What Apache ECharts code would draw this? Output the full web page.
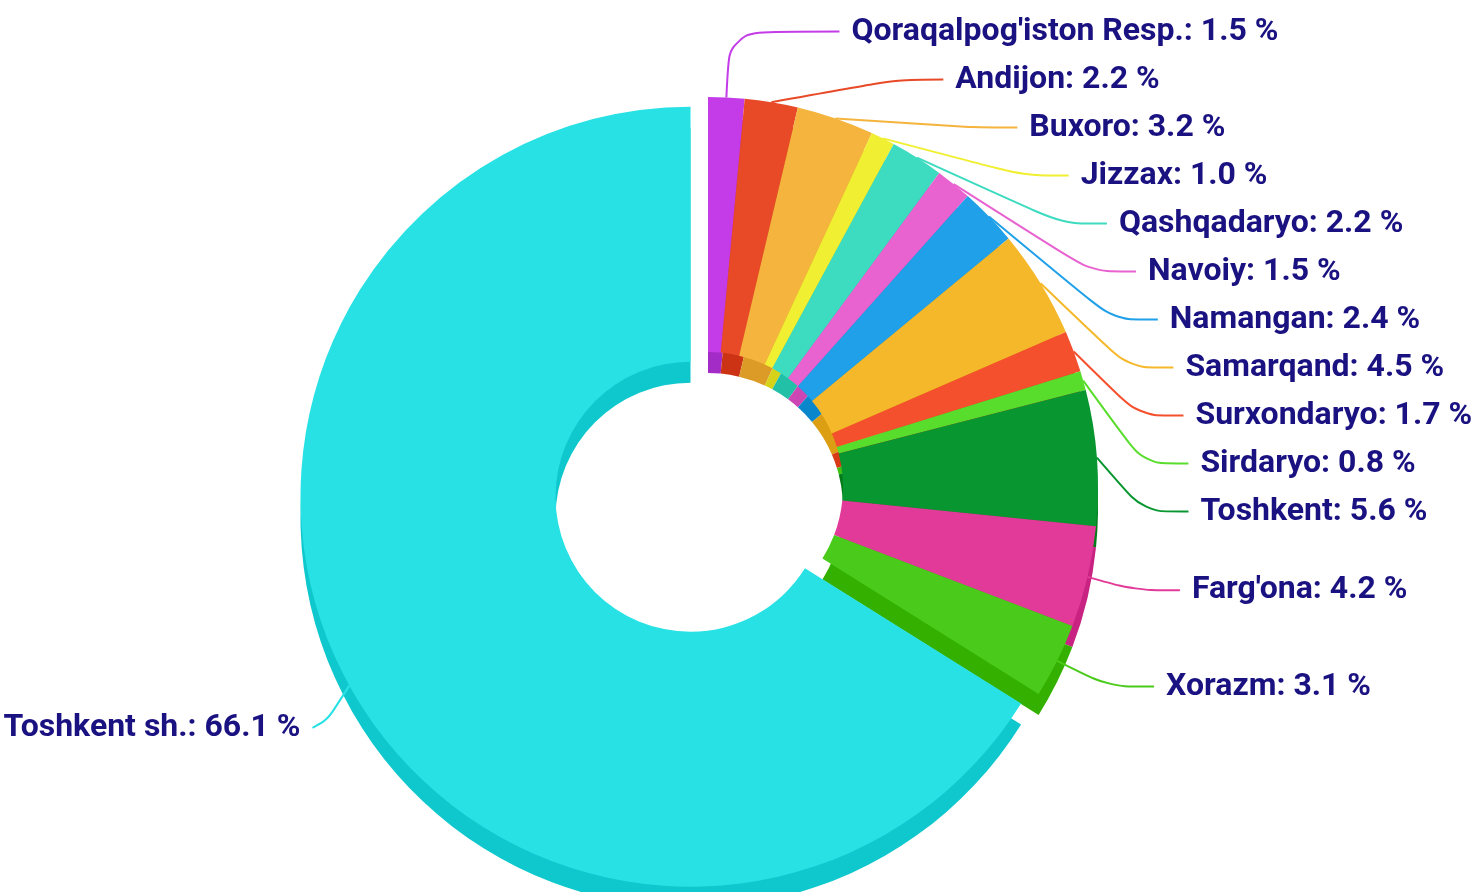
<!DOCTYPE html>
<html>
<head>
<meta charset="utf-8">
<script src="https://cdn.jsdelivr.net/npm/echarts@6/dist/echarts.min.js"></script>
<style>
  html, body { margin: 0; padding: 0; background: #fff; }
  #chart { width: 1479px; height: 892px; }
</style>
</head>
<body>
<div id="chart"></div>
<script>
// viloyatlar va ulushlar (%)
var regions = ["Qoraqalpog'iston Resp.", "Andijon", "Buxoro", "Jizzax", "Qashqadaryo", "Navoiy",
  "Namangan", "Samarqand", "Surxondaryo", "Sirdaryo", "Toshkent", "Farg'ona", "Xorazm", "Toshkent sh."];
var shares = [1.5, 2.2, 3.2, 1.0, 2.2, 1.5, 2.4, 4.5, 1.7, 0.8, 5.6, 4.2, 3.1, 66.1];
var topColors = ["#c43ce8", "#e84a28", "#f4b43e", "#f0ef32", "#3ddbc0", "#e862d0", "#1fa0e8",
  "#f5b82a", "#f5502d", "#58dd2c", "#079630", "#e23a98", "#4acb1b", "#27e1e5"];
var sideColors = ["#a42cc6", "#cc3214", "#dc9a26", "#d6d21a", "#22c0a6", "#cc46b4", "#0a86cc",
  "#dc9e12", "#d83a18", "#40c014", "#027c18", "#c82382", "#33b000", "#0fc8cd"];

var cx = 708, cy = 487;
var rIn = 135, rOut = 390;

var topData = [], sideData = [];
for (var i = 0; i < regions.length; i++) {
  var sel = regions[i] === "Toshkent sh.";
  var item = { name: regions[i], value: shares[i], selected: sel, itemStyle: { color: topColors[i] } };
  if (sel) item.labelLine = { length: 25, length2: 15 };
  if (i === 0) item.labelLine = { length: 66, length2: 110 };
  topData.push(item);
  sideData.push({ name: regions[i], value: shares[i], selected: sel, itemStyle: { color: sideColors[i] } });
}

var myChart = echarts.init(document.getElementById("chart"));
myChart.setOption({
  animation: false,
  series: [
    {
      // pastki qatlam (3D qalinligi)
      type: "pie",
      silent: true,
      center: [cx, cy + 21],
      radius: [rIn, rOut],
      startAngle: 90,
      clockwise: true,
      selectedMode: "single",
      selectedOffset: 20,
      label: { show: false },
      labelLine: { show: false },
      data: sideData,
      z: 1
    },
    {
      type: "pie",
      center: [cx, cy],
      radius: [rIn, rOut],
      startAngle: 90,
      clockwise: true,
      selectedMode: "single",
      selectedOffset: 20,
      avoidLabelOverlap: true,
      label: {
        show: true,
        overflow: "none",
        formatter: function (p) { return p.name + ": " + p.value.toFixed(1) + " %"; },
        fontFamily: "Roboto",
        fontWeight: "bold",
        fontSize: 32,
        color: "#1b1282",
        lineHeight: 46,
        distanceToLabelLine: 12
      },
      labelLine: {
        show: true,
        length: 58,
        length2: 45,
        smooth: 0.3,
        lineStyle: { width: 2 }
      },
      labelLayout: function (p) {
        // Toshkent sh. yozuvi biroz pastroqda
        if (p.dataIndex === regions.length - 1 && p.labelLinePoints) {
          var pts = p.labelLinePoints;
          return {
            dy: 30,
            labelLinePoints: [pts[0], [pts[1][0], pts[1][1] + 22], [pts[2][0], pts[2][1] + 30]]
          };
        }
        return {};
      },
      data: topData,
      z: 2
    }
  ]
});
window.addEventListener("resize", function () {
  myChart.resize();
});
</script>
</body>
</html>
